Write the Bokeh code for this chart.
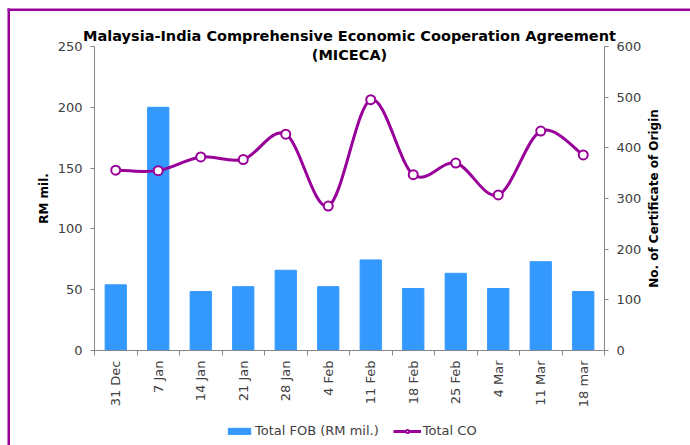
import math
from bokeh.plotting import figure
from bokeh.models import (Range1d, LinearAxis, FixedTicker, Legend, LegendItem,
                          Label, BoxAnnotation)
from bokeh.embed import file_html
from bokeh.resources import INLINE

# ---- data ----
dates = ["31 Dec", "7 Jan", "14 Jan", "21 Jan", "28 Jan", "4 Feb",
         "11 Feb", "18 Feb", "25 Feb", "4 Mar", "11 Mar", "18 mar"]
total_fob = [54, 200, 48.5, 52.5, 66, 52.5, 74.5, 51, 63.5, 51, 73, 48.5]
total_co = [356, 355, 382, 377, 427, 285, 495, 347, 370, 307, 433, 386]
fob_ticks = [0, 50, 100, 150, 200, 250]
co_ticks = [0, 100, 200, 300, 400, 500, 600]
title_line1 = "Malaysia-India Comprehensive Economic Cooperation Agreement"
title_line2 = "(MICECA)"
fob_label = "RM mil."
co_label = "No. of Certificate of Origin"
fob_name = "Total FOB (RM mil.)"
co_name = "Total CO"

# ---- style / layout (pixels) ----
PURPLE = "#990099"
BLUE = "#3399FF"
AXIS = "#868686"
TXT = "#404040"
FONT = "DejaVu Sans"
W, H = 690, 445
PLOT_L, PLOT_R, PLOT_T, PLOT_B = 94, 604, 46, 350   # plotting area in pixels

n = len(dates)
xs = [i + 0.5 for i in range(n)]

# ranges chosen so that the whole canvas is the frame
xpx = (PLOT_R - PLOT_L) / n
x_start = -PLOT_L / xpx
x_end = n + (W - PLOT_R) / xpx
fpx = (PLOT_B - PLOT_T) / (fob_ticks[-1] - fob_ticks[0])
cpx = (PLOT_B - PLOT_T) / (co_ticks[-1] - co_ticks[0])
y_start = fob_ticks[0] - (H - PLOT_B) / fpx
y_end = fob_ticks[-1] + PLOT_T / fpx

p = figure(width=W, height=H, output_backend="svg", toolbar_location=None,
           x_range=Range1d(x_start, x_end), y_range=Range1d(y_start, y_end),
           min_border=0, min_border_left=0, min_border_right=0,
           min_border_top=0, min_border_bottom=0)
p.outline_line_color = None
p.xgrid.visible = False
p.ygrid.visible = False
p.extra_y_ranges = {"co": Range1d(co_ticks[0] - (H - PLOT_B) / cpx,
                                  co_ticks[-1] + PLOT_T / cpx)}

# outer border (only top and left edges are inside the window)
p.add_layout(BoxAnnotation(left=x_start + 7 / xpx, right=x_start + 9.5 / xpx,
                           top=y_end - 8 / fpx, bottom=None,
                           fill_color=PURPLE, fill_alpha=1, line_alpha=0))
p.add_layout(BoxAnnotation(left=x_start + 7 / xpx, right=None,
                           top=y_end - 8 / fpx, bottom=y_end - 10.5 / fpx,
                           fill_color=PURPLE, fill_alpha=1, line_alpha=0))

# bars
bars = p.vbar(x=xs, top=total_fob, width=0.5, fill_color=BLUE, line_color=BLUE)

# smoothed line (Bezier segments through the data points)
bx0, by0, bx1, by1, cx0, cy0, cx1, cy1 = [], [], [], [], [], [], [], []
for i in range(n - 1):
    pm = max(i - 1, 0)
    pp = min(i + 2, n - 1)
    bx0.append(xs[i]); by0.append(total_co[i])
    bx1.append(xs[i + 1]); by1.append(total_co[i + 1])
    cx0.append(xs[i] + (xs[i + 1] - xs[pm]) / 6.0)
    cy0.append(total_co[i] + (total_co[i + 1] - total_co[pm]) / 6.0)
    cx1.append(xs[i + 1] - (xs[pp] - xs[i]) / 6.0)
    cy1.append(total_co[i + 1] - (total_co[pp] - total_co[i]) / 6.0)
p.bezier(x0=bx0, y0=by0, x1=bx1, y1=by1, cx0=cx0, cy0=cy0, cx1=cx1, cy1=cy1,
         line_color=PURPLE, line_width=3, y_range_name="co")
pts = p.scatter(x=xs, y=total_co, size=9, marker="circle", fill_color="white",
                line_color=PURPLE, line_width=2, y_range_name="co")
leg_line = p.line(x=[xs[0]], y=[total_co[0]], line_color=PURPLE, line_width=3,
                  y_range_name="co")

# x axis, fixed at y = 0
xa = p.xaxis[0]
xa.fixed_location = 0
xa.bounds = (0, n)
xa.ticker = FixedTicker(ticks=xs, minor_ticks=list(range(n + 1)))
xa.major_label_overrides = {x: d for x, d in zip(xs, dates)}
xa.major_label_orientation = math.pi / 2
xa.major_tick_in = 0
xa.major_tick_out = 0
xa.minor_tick_in = 0
xa.minor_tick_out = 5
xa.minor_tick_line_color = AXIS
xa.axis_line_color = AXIS
xa.major_label_standoff = 5
xa.major_label_text_font = FONT
xa.major_label_text_font_size = "13px"
xa.major_label_text_color = TXT

# left axis, fixed at x = 0
ya = p.yaxis[0]
ya.fixed_location = 0
ya.bounds = (fob_ticks[0], fob_ticks[-1])
ya.ticker = FixedTicker(ticks=fob_ticks)
ya.axis_label = fob_label
ya.axis_label_text_font = FONT
ya.axis_label_text_font_style = "bold"
ya.axis_label_text_font_size = "12px"
ya.axis_label_text_color = "black"
ya.axis_label_standoff = 4
ya.major_tick_in = 0
ya.major_tick_out = 4
ya.minor_tick_line_color = None
ya.axis_line_color = AXIS
ya.major_tick_line_color = AXIS
ya.major_label_standoff = 8
ya.major_label_text_font = FONT
ya.major_label_text_font_size = "13px"
ya.major_label_text_color = TXT

# right axis, fixed at x = n
ra = LinearAxis(y_range_name="co", ticker=FixedTicker(ticks=co_ticks),
                fixed_location=n, bounds=(co_ticks[0], co_ticks[-1]))
ra.major_tick_in = 0
ra.major_tick_out = 4
ra.minor_tick_line_color = None
ra.axis_line_color = AXIS
ra.major_tick_line_color = AXIS
ra.major_label_standoff = 8
ra.major_label_text_font = FONT
ra.major_label_text_font_size = "13px"
ra.major_label_text_color = TXT
p.add_layout(ra, "right")

# right axis title (reads bottom to top)
p.add_layout(Label(x=n, y=(co_ticks[0] + co_ticks[-1]) / 2, y_range_name="co",
                   x_offset=49, angle=math.pi / 2, text=co_label,
                   text_align="center", text_baseline="middle",
                   text_font=FONT, text_font_style="bold", text_font_size="12px",
                   text_color="black"))

# title
p.add_layout(Label(x=n / 2, y=fob_ticks[-1], y_offset=11, text=title_line1,
                   text_align="center", text_baseline="alphabetic",
                   text_font=FONT, text_font_style="bold", text_font_size="14.5px",
                   text_color="black"))
p.add_layout(Label(x=n / 2, y=fob_ticks[-1], y_offset=-8.5, text=title_line2,
                   text_align="center", text_baseline="alphabetic",
                   text_font=FONT, text_font_style="bold", text_font_size="14.5px",
                   text_color="black"))

# legend
legend = Legend(items=[LegendItem(label=fob_name, renderers=[bars]),
                       LegendItem(label=co_name, renderers=[leg_line, pts])],
                orientation="horizontal", location=(225, 7),
                glyph_width=28, glyph_height=8, label_height=14, label_standoff=2,
                spacing=14, padding=0, margin=0,
                label_text_font=FONT, label_text_font_size="13px",
                label_text_color=TXT, background_fill_alpha=0,
                border_line_color=None)
p.add_layout(legend)

open("out.html", "w").write(file_html(p, INLINE))
